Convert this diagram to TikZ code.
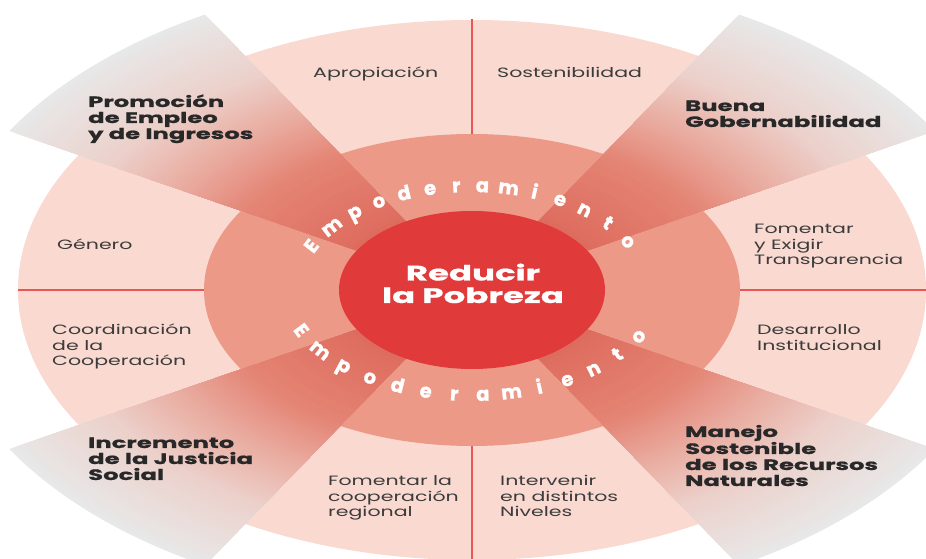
\documentclass[tikz,border=0pt]{standalone}
\usepackage{fontspec}
\setmainfont{Poppins}[FakeStretch=1.52, BoldFeatures={FakeStretch=1.62, FakeBold=0.8}]
\newfontfamily\empfont{Poppins}[BoldFeatures={FakeBold=1.2}]
\usetikzlibrary{calc}
\definecolor{ringout}{RGB}{249,217,208}
\definecolor{ringmid}{RGB}{236,153,136}
\definecolor{core}{RGB}{224,58,58}
\definecolor{divline}{RGB}{234,86,86}
\definecolor{labeltext}{RGB}{60,60,60}
\definecolor{boldtext}{RGB}{40,40,40}
\definecolor{wB}{RGB}{232,232,232}
\definecolor{wA}{RGB}{236,208,202}
\definecolor{wC}{RGB}{233,170,158}
\definecolor{wD}{RGB}{228,132,116}
\definecolor{wE}{RGB}{221,104,90}
\tikzset{
  lightlabel/.style={font=\fontsize{13.5}{15.5}\selectfont, text=labeltext, align=left, inner sep=0pt, anchor=base west},
  boldlabel/.style={font=\bfseries\fontsize{15}{16}\selectfont, text=boldtext, align=left, inner sep=0pt, anchor=base west},
  corelabel/.style={font=\bfseries\fontsize{21}{22.5}\selectfont, text=white, align=center, inner sep=0pt, anchor=base},
  divider/.style={draw=divline, line width=2pt},
  empletter/.style={font=\empfont\bfseries\fontsize{19.5}{19.5}\selectfont, text=white, inner sep=0pt, anchor=base},
}
\begin{document}
\begin{tikzpicture}[x=1pt,y=1pt]
\useasboundingbox (0,0) rectangle (926,559);
\coordinate (C) at (472,269);
% rings
\fill[ringout] (C) ellipse[x radius=454pt, y radius=270pt];
\fill[ringmid] (C) ellipse[x radius=268pt, y radius=156pt];
% dividers
\coordinate (topA) at (472,540);
\coordinate (topB) at (472,425);
\coordinate (botA) at (472,113);
\coordinate (botB) at (472,-5);
\coordinate (leftA) at (18,269);
\coordinate (leftB) at (204,269);
\coordinate (rightA) at (740,269);
\coordinate (rightB) at (930,269);
\draw[divider] (topA) -- (topB);
\draw[divider] (botA) -- (botB);
\draw[divider] (leftA) -- (leftB);
\draw[divider] (rightA) -- (rightB);
% wedges with radial gradient (drawn as steps)
\foreach \ra/\rb/\ca/\cb in {250/318/wA/wB, 200/250/wC/wA, 155/200/wD/wC, 70/155/wE/wD}{
  \foreach \i in {0,...,19}{
    \pgfmathsetmacro\rr{\rb-(\rb-\ra)*\i/20}
    \pgfmathsetmacro\rx{1.68*\rr}
    \pgfmathsetmacro\pp{100*\i/20}
    \colorlet{wcur}{\ca!\pp!\cb}
    \foreach \a in {30,120,210,300}{
      \fill[wcur] (C) -- ++({\rx*cos(\a)},{\rr*sin(\a)})
        arc[start angle=\a, end angle=\a+30, x radius=\rx pt, y radius=\rr pt] -- cycle;
    }
  }
}
% core
\fill[core] (C) ellipse[x radius=133pt, y radius=79pt];
% curved words: upper arc
\foreach \ch/\angU [count=\k] in {E/156.0,m/143.4,p/132.3,o/122.4,d/113.0,e/104.0,r/95.2,a/86.55,m/77.8,i/68.9,e/59.5,n/49.7,t/39.0,o/27.0}{
  \pgfmathsetmacro\rotU{atan2(-98*cos(\angU),170*sin(\angU))}
  \node[empletter, rotate=\rotU] (up\k) at ($(C)+({170*cos(\angU)},{98*sin(\angU)})$) {\ch};
}
% curved words: lower arc
\foreach \ch/\angL [count=\k] in {E/203.5,m/215.9,p/227.0,o/237.2,d/246.7,e/255.8,r/264.6,a/273.3,m/282.1,i/291.0,e/300.4,n/310.3,t/321.0,o/333.0}{
  \pgfmathsetmacro\rotL{atan2(111*cos(\angL),-192*sin(\angL))}
  \node[empletter, rotate=\rotL] (lo\k) at ($(C)+({192*cos(\angL)},{111*sin(\angL)})$) {\ch};
}
% centre text
\node[corelabel] (core) at (473,256) {Reducir\\la Pobreza};
% light labels
\node[lightlabel] (apro) at (313,481) {Apropiación};
\node[lightlabel] (sost) at (497,481) {Sostenibilidad};
\node[lightlabel] (gene) at (57,309) {Género};
\node[lightlabel] (tran) at (754,294) {Fomentar\\y Exigir\\Transparencia};
\node[lightlabel] (coor) at (52,193) {Coordinación\\de la\\Cooperación};
\node[lightlabel] (desa) at (757,208.5) {Desarrollo\\Institucional};
\node[lightlabel] (regi) at (328,42) {Fomentar la\\cooperación\\regional};
\node[lightlabel] (inte) at (500,42) {Intervenir\\en distintos\\Niveles};
% bold labels
\node[boldlabel] (prom) at (88,420) {Promoción\\de Empleo\\y de Ingresos};
\node[boldlabel] (buen) at (685,432) {Buena\\Gobernabilidad};
\node[boldlabel] (incr) at (88,79) {Incremento\\de la Justicia\\Social};
\node[boldlabel] (mane) at (685,73) {Manejo\\Sostenible\\de los Recursos\\Naturales};
\end{tikzpicture}
\end{document}
